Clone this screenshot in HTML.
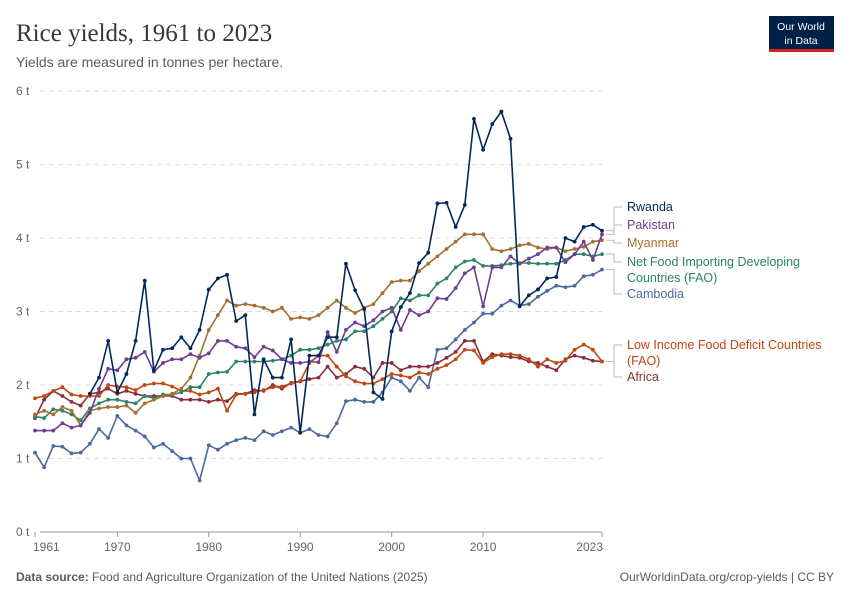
<!DOCTYPE html>
<html><head><meta charset="utf-8">
<style>
body{margin:0;background:#fff;font-family:"Liberation Sans",sans-serif;}
#wrap{position:relative;width:850px;height:600px;overflow:hidden;}
</style></head>
<body>
<div id="wrap">
<svg id="svg" width="850" height="600" xmlns="http://www.w3.org/2000/svg">
<text x="16" y="41" font-family="Liberation Serif,serif" font-size="25" fill="#373737">Rice yields, 1961 to 2023</text>
<text x="16" y="67" font-size="14" fill="#5b5b5b">Yields are measured in tonnes per hectare.</text>
<g>
<rect x="769" y="16" width="65" height="34" fill="#002147"/>
<rect x="769" y="49" width="65" height="3" fill="#ce261e"/>
<text x="801" y="30" font-size="10.5" fill="#fff" text-anchor="middle">Our World</text>
<text x="801" y="44" font-size="10.5" fill="#fff" text-anchor="middle">in Data</text>
</g>
<g id="grid"></g>
<g id="series"></g>
<g id="legend"></g>
<text x="16" y="581" font-size="12" fill="#5b5b5b"><tspan font-weight="bold">Data source:</tspan> Food and Agriculture Organization of the United Nations (2025)</text>
<text x="834" y="581" font-size="12" fill="#5b5b5b" text-anchor="end">OurWorldinData.org/crop-yields | CC BY</text>
</svg>
</div>
<script>
const years=[];for(let y=1961;y<=2023;y++)years.push(y);
const yTicks=[0,1,2,3,4,5,6];
const xTicks=[1961,1970,1980,1990,2000,2010,2023];
const rwanda=[null,null,null,null,null,null,1.88,2.1,2.6,1.9,2.15,2.6,3.42,2.2,2.48,2.5,2.65,2.5,2.75,3.3,3.45,3.5,2.87,2.95,1.6,2.35,2.1,2.1,2.62,1.35,2.4,2.4,2.65,2.65,3.65,3.29,3.03,1.9,1.81,2.73,3.06,3.25,3.66,3.8,4.47,4.48,4.15,4.45,5.62,5.2,5.55,5.72,5.35,3.07,3.22,3.3,3.45,3.47,4.0,3.95,4.15,4.18,4.1];
const pakistan=[1.38,1.38,1.38,1.48,1.42,1.45,1.62,1.95,2.22,2.2,2.35,2.37,2.45,2.18,2.3,2.35,2.35,2.42,2.37,2.43,2.6,2.6,2.52,2.5,2.38,2.52,2.47,2.35,2.3,2.3,2.32,2.31,2.72,2.45,2.75,2.85,2.8,2.88,3.0,3.05,2.75,3.02,2.95,3.0,3.18,3.17,3.32,3.52,3.6,3.07,3.6,3.6,3.75,3.65,3.72,3.78,3.87,3.87,3.67,3.78,3.95,3.7,4.05];
const myanmar=[1.6,1.65,1.6,1.7,1.65,1.45,1.65,1.68,1.7,1.7,1.72,1.62,1.75,1.8,1.85,1.88,1.95,2.1,2.4,2.75,2.95,3.15,3.08,3.1,3.08,3.05,3.0,3.05,2.9,2.92,2.9,2.95,3.05,3.15,3.05,2.98,3.05,3.1,3.25,3.4,3.42,3.42,3.55,3.65,3.75,3.85,3.95,4.05,4.05,4.05,3.85,3.82,3.85,3.9,3.92,3.87,3.85,3.87,3.82,3.85,3.88,3.95,3.97];
const netFood=[1.57,1.55,1.67,1.65,1.6,1.52,1.68,1.75,1.8,1.8,1.77,1.75,1.85,1.82,1.87,1.87,1.9,1.97,1.97,2.15,2.17,2.18,2.32,2.32,2.32,2.32,2.33,2.35,2.4,2.48,2.48,2.5,2.55,2.6,2.62,2.73,2.73,2.8,2.9,3.0,3.18,3.15,3.22,3.22,3.38,3.45,3.6,3.68,3.7,3.62,3.62,3.63,3.65,3.66,3.66,3.65,3.65,3.65,3.7,3.78,3.78,3.75,3.78];
const cambodia=[1.08,0.88,1.17,1.16,1.07,1.08,1.2,1.4,1.28,1.58,1.45,1.38,1.3,1.15,1.2,1.1,1.0,1.0,0.7,1.18,1.12,1.2,1.25,1.28,1.25,1.37,1.32,1.37,1.42,1.35,1.4,1.32,1.3,1.48,1.78,1.8,1.77,1.77,1.9,2.1,2.05,1.92,2.1,1.97,2.48,2.5,2.62,2.75,2.85,2.97,2.97,3.08,3.15,3.08,3.1,3.2,3.28,3.35,3.33,3.35,3.48,3.5,3.57];
const lowIncome=[1.82,1.85,1.92,1.97,1.87,1.85,1.85,1.85,2.0,1.98,1.97,1.93,2.0,2.02,2.02,1.98,1.92,1.92,1.87,1.9,1.95,1.65,1.87,1.88,1.9,1.93,1.97,1.98,2.02,2.05,2.3,2.4,2.4,2.25,2.12,2.05,2.02,2.02,2.08,2.15,2.13,2.1,2.17,2.15,2.22,2.27,2.35,2.48,2.47,2.3,2.38,2.42,2.42,2.4,2.35,2.25,2.35,2.3,2.33,2.48,2.55,2.48,2.32];
const africa=[1.55,1.8,1.92,1.85,1.77,1.72,1.88,1.9,1.95,1.88,1.92,1.88,1.85,1.85,1.85,1.85,1.8,1.8,1.8,1.77,1.8,1.78,1.88,1.88,1.93,1.92,2.0,1.95,2.03,2.05,2.08,2.1,2.25,2.1,2.15,2.25,2.22,2.1,2.3,2.3,2.2,2.25,2.25,2.25,2.3,2.37,2.45,2.6,2.6,2.32,2.42,2.4,2.38,2.37,2.32,2.3,2.25,2.2,2.35,2.4,2.37,2.33,2.32];

const X0=35,X1=602,Y0=532,Y6=91;
const xs=y=>X0+(y-1961)*(X1-X0)/62;
const ys=v=>Y0-v*(Y0-Y6)/6;
const NS="http://www.w3.org/2000/svg";
function mk(tag,attrs,parent){const e=document.createElementNS(NS,tag);for(const k in attrs)e.setAttribute(k,attrs[k]);parent.appendChild(e);return e;}
const grid=document.getElementById('grid');
yTicks.forEach(t=>{
  const l=mk('line',{x1:40,x2:X1,y1:ys(t),y2:ys(t),stroke:t===0?'#999':'#ddd','stroke-dasharray':t===0?'':'5,4'},grid);
  
  
  const tx=mk('text',{x:16,y:ys(t)+4,'font-size':12,fill:'#666'},grid);
  tx.textContent=t+' t';
  
  
});
xTicks.forEach((t,i)=>{
  let x=xs(t);
  mk('line',{x1:x,x2:x,y1:Y0,y2:Y0+5,stroke:'#999'},grid);
  let lx=x, anchor='middle';
  if(i===0){lx=x-2;anchor='start';}
  if(i===xTicks.length-1){lx=x+1;anchor='end';}
  const tx=mk('text',{x:lx,y:551,'font-size':12,fill:'#666','text-anchor':anchor},grid);
  tx.textContent=t;
  
  
});
const series=[
 {name:'cambodia',data:cambodia,color:'#4c6a9c'},
 {name:'africa',data:africa,color:'#883039'},
 {name:'low-income',data:lowIncome,color:'#c0470f'},
 {name:'net-food',data:netFood,color:'#2c8465'},
 {name:'myanmar',data:myanmar,color:'#a2712f'},
 {name:'pakistan',data:pakistan,color:'#6d3e91'},
 {name:'rwanda',data:rwanda,color:'#00295b'}
];
const sg=document.getElementById('series');
series.forEach(s=>{
  const g=mk('g',{},sg);
  
  
  let d='';let started=false;
  s.data.forEach((v,i)=>{if(v==null)return;d+=(started?'L':'M')+xs(years[i]).toFixed(1)+','+ys(v).toFixed(1);started=true;});
  const p=mk('path',{d:d,fill:'none',stroke:s.color,'stroke-width':1.6,'stroke-linejoin':'round'},g);
  
  
  s.data.forEach((v,i)=>{if(v==null)return;
    const c=mk('circle',{cx:xs(years[i]),cy:ys(v),r:1.9,fill:s.color},g);
    
    
  });
});
const legend=[
 {lines:['Rwanda'],y:211,color:'#00295b',data:rwanda},
 {lines:['Pakistan'],y:229,color:'#6d3e91',data:pakistan},
 {lines:['Myanmar'],y:247,color:'#a2712f',data:myanmar},
 {lines:['Net Food Importing Developing','Countries (FAO)'],y:266,color:'#2c8465',data:netFood},
 {lines:['Cambodia'],y:298,color:'#4c6a9c',data:cambodia},
 {lines:['Low Income Food Deficit Countries','(FAO)'],y:349,color:'#c0470f',data:lowIncome},
 {lines:['Africa'],y:381,color:'#883039',data:africa}
];
const lg=document.getElementById('legend');
legend.forEach(e=>{
  const g=mk('g',{},lg);
  
  
  const endY=ys(e.data[e.data.length-1]);
  mk('path',{d:`M606,${endY}H614V${e.y-4}H622`,fill:'none',stroke:'#bbb','stroke-width':1},g);
  e.lines.forEach((t,k)=>{
    const tx=mk('text',{x:627,y:e.y+k*16,'font-size':12.5,fill:e.color},g);
    tx.textContent=t;
  });
});
</script>
</body></html>
